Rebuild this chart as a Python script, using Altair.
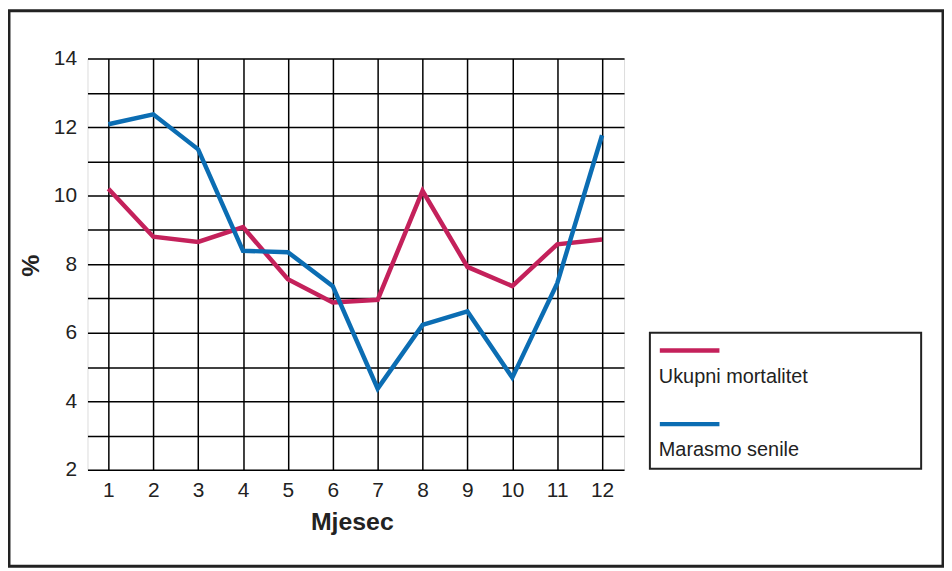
import altair as alt
import pandas as pd

months = list(range(1, 13))
series_names = ["Ukupni mortalitet", "Marasmo senile"]
ukupni = [10.2, 8.8, 8.65, 9.08, 7.56, 6.88, 6.96, 10.14, 7.92, 7.36, 8.58, 8.72]
marasmo = [12.08, 12.37, 11.35, 8.39, 8.35, 7.36, 4.37, 6.23, 6.62, 4.69, 7.44, 11.76]
colors = ["#c4215b", "#0b6db3"]
y_ticks = list(range(2, 15))

rows = []
for m, v in zip(months, ukupni):
    rows.append({"Mjesec": m, "value": v, "series": series_names[0]})
for m, v in zip(months, marasmo):
    rows.append({"Mjesec": m, "value": v, "series": series_names[1]})
df = pd.DataFrame(rows)

FONT = "Liberation Sans"

lines = alt.Chart(df).mark_line(strokeWidth=4.5).encode(
    x=alt.X("Mjesec:Q",
            scale=alt.Scale(domain=[0.535, 12.49], nice=False, zero=False),
            axis=alt.Axis(values=months, grid=True, gridColor="black", gridWidth=1.5,
                          gridOpacity=1, domain=False, ticks=False, labelFontSize=21,
                          labelPadding=10, labelColor="#222", labelFont=FONT,
                          title="Mjesec", titleFontSize=25, titleFontWeight="bold",
                          titleFont=FONT, titleColor="#222",
                          titleX=266, titleY=52, titleBaseline="middle",
                          titleAlign="center")),
    y=alt.Y("value:Q",
            scale=alt.Scale(domain=[2, 14], nice=False, zero=False),
            axis=alt.Axis(values=y_ticks, grid=True, gridColor="black", gridWidth=1.5,
                          gridOpacity=1, domain=False, ticks=False, labelFontSize=21,
                          labelPadding=11, labelColor="#222", labelFont=FONT,
                          labelExpr="datum.value % 2 == 0 ? datum.label : ''",
                          title="%", titleFontSize=25, titleFontWeight="bold",
                          titleFont=FONT, titleColor="#222", titleAngle=270,
                          titleX=-57, titleY=208, titleBaseline="middle",
                          titleAlign="center")),
    color=alt.Color("series:N", scale=alt.Scale(domain=series_names, range=colors),
                    legend=None),
)

one = pd.DataFrame({"a": [0]})

frame = alt.Chart(one).mark_rect(fillOpacity=0, stroke="#222", strokeWidth=3).encode(
    x=alt.value(-79), x2=alt.value(861), y=alt.value(-48), y2=alt.value(511)
)

legend_box = alt.Chart(one).mark_rect(fillOpacity=0, stroke="#222", strokeWidth=2).encode(
    x=alt.value(566), x2=alt.value(839), y=alt.value(276), y2=alt.value(413)
)

legend_layers = []
sym_y = [294, 368]
lab_y = [327, 400]
for name, col, sy, ly in zip(series_names, colors, sym_y, lab_y):
    legend_layers.append(
        alt.Chart(pd.DataFrame({"s": [name]})).mark_rule(color=col, strokeWidth=4.5).encode(
            x=alt.value(576), x2=alt.value(636), y=alt.value(sy)
        )
    )
    legend_layers.append(
        alt.Chart(pd.DataFrame({"s": [name]})).mark_text(
            align="left", baseline="alphabetic", fontSize=20, font=FONT, color="#222"
        ).encode(x=alt.value(575), y=alt.value(ly), text="s:N")
    )

chart = alt.layer(lines, frame, legend_box, *legend_layers).properties(
    width=540, height=414,
    autosize=alt.AutoSizeParams(type="none"),
    padding={"left": 80, "top": 49, "right": 322, "bottom": 100},
).configure_view(stroke="#222", strokeWidth=2).configure(background="white")

chart.save("out.html", embed_options={"renderer": "svg", "actions": False})
